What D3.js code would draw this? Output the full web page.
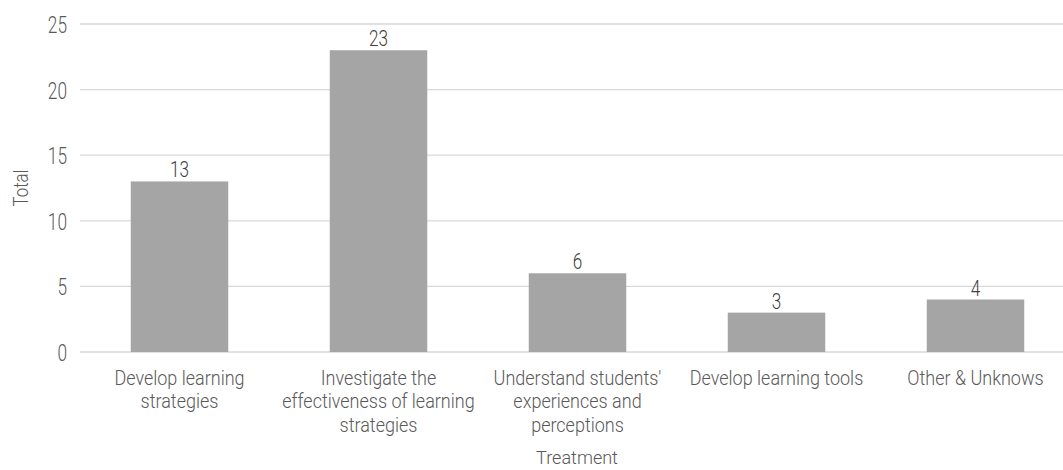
<!DOCTYPE html>
<html>
<head>
<meta charset="utf-8">
<script src="https://cdn.jsdelivr.net/npm/d3@7"></script>
<style>
  html, body { margin: 0; padding: 0; background: #fff; }
  svg { display: block; }
  text { font-family: Roboto, "Liberation Sans", sans-serif; font-weight: 300; }
</style>
</head>
<body>
<svg id="chart" width="1063" height="470"></svg>
<script>
const categories = [
  ["Develop learning", "strategies"],
  ["Investigate the", "effectiveness of learning", "strategies"],
  ["Understand students'", "experiences and", "perceptions"],
  ["Develop learning tools"],
  ["Other & Unknows"]
];
const totals = [13, 23, 6, 3, 4];
const yTicks = [0, 5, 10, 15, 20, 25];

const svg = d3.select("#chart");
const keys = categories.map(c => c.join(" "));

const x = d3.scaleBand().domain(keys).range([80, 1075]).paddingInner(0.51).paddingOuter(0.255);
const y = d3.scaleLinear().domain([0, 25]).range([352, 24]);

// narrow, tall text: draw at (data-x, data-y) with a horizontal squeeze
function narrow(sel, sx) {
  return sel.attr("transform", function() {
    const t = d3.select(this);
    const px = +t.attr("data-x"), py = +t.attr("data-y");
    return `translate(${px},${py}) scale(${sx},1)`;
  });
}

// horizontal gridlines
svg.append("g").selectAll("line").data(yTicks).join("line")
  .attr("x1", 80).attr("x2", 1063)
  .attr("y1", d => y(d)).attr("y2", d => y(d))
  .attr("stroke", "#d9d9d9").attr("stroke-width", 1.3);

// y tick labels
const yAxis = d3.axisLeft(y).tickValues(yTicks).tickSize(0).tickPadding(0);
const gy = svg.append("g").call(yAxis);
gy.select(".domain").remove();
gy.selectAll(".tick").attr("transform", null);
gy.selectAll(".tick text")
  .attr("x", null).attr("dy", null)
  .attr("data-x", 67).attr("data-y", d => y(d) + 9)
  .attr("fill", "#595959").attr("font-size", 24).attr("font-family", null)
  .call(narrow, 0.72);

// bars
svg.append("g").selectAll("rect").data(totals).join("rect")
  .attr("x", (d, i) => x(keys[i]))
  .attr("width", x.bandwidth())
  .attr("y", d => y(d))
  .attr("height", d => y(0) - y(d))
  .attr("fill", "#a5a5a5");

// value labels
svg.append("g").selectAll("text").data(totals).join("text")
  .attr("data-x", (d, i) => x(keys[i]) + x.bandwidth() / 2)
  .attr("data-y", d => y(d) - 4)
  .attr("text-anchor", "middle")
  .attr("fill", "#404040").attr("font-size", 22)
  .text(d => d)
  .call(narrow, 0.78);

// category labels
const cl = svg.append("g").selectAll("text").data(categories).join("text")
  .attr("text-anchor", "middle")
  .attr("fill", "#595959").attr("font-size", 20)
  .attr("data-x", (d, i) => x(keys[i]) + x.bandwidth() / 2)
  .attr("data-y", 385)
  .call(narrow, 0.9);
cl.selectAll("tspan").data(d => d).join("tspan")
  .attr("x", 0)
  .attr("dy", (d, i) => i === 0 ? 0 : 23.5)
  .text(d => d);

// axis titles
svg.append("text").attr("data-x", 577).attr("data-y", 464).attr("text-anchor", "middle")
  .attr("fill", "#595959").attr("font-size", 19).text("Treatment")
  .call(narrow, 0.95);
svg.append("text").attr("transform", "translate(28,188) rotate(-90) scale(0.8,1)").attr("text-anchor", "middle")
  .attr("fill", "#595959").attr("font-size", 21).text("Total");
</script>
</body>
</html>
